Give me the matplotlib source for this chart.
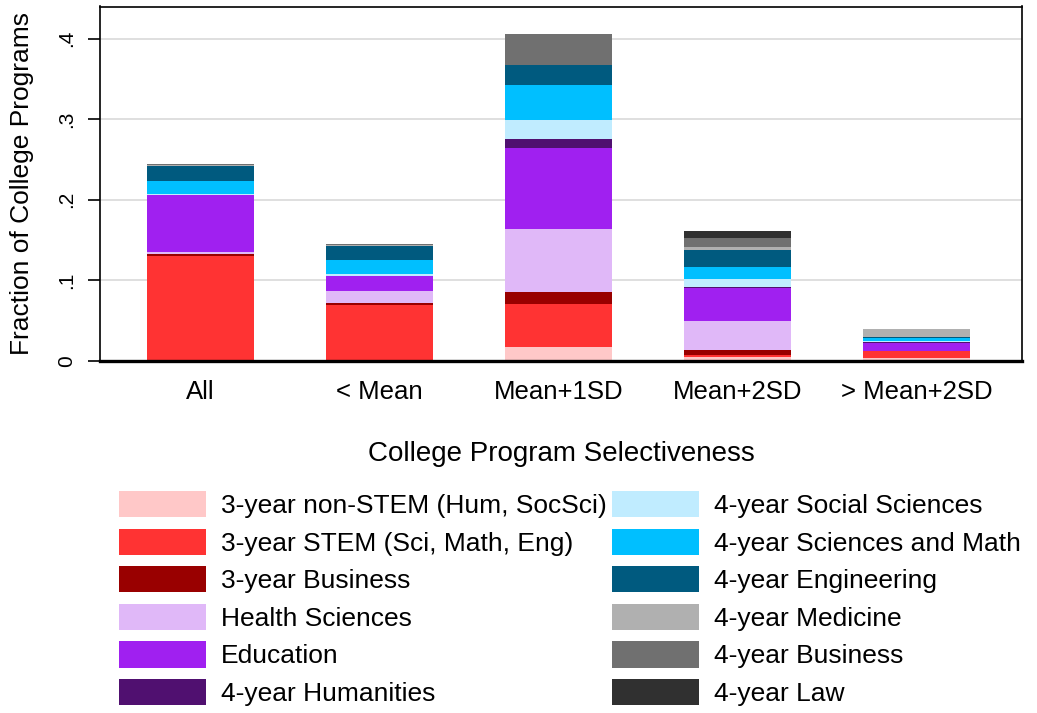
import matplotlib
matplotlib.use("Agg")
import matplotlib.pyplot as plt
import numpy as np
from matplotlib.patches import Patch

plt.rcParams['font.family'] = ['Liberation Sans', 'DejaVu Sans']

groups = ["All", "< Mean", "Mean+1SD", "Mean+2SD", "> Mean+2SD"]
fields = ["3-year non-STEM (Hum, SocSci)", "3-year STEM (Sci, Math, Eng)", "3-year Business",
          "Health Sciences", "Education", "4-year Humanities",
          "4-year Social Sciences", "4-year Sciences and Math", "4-year Engineering",
          "4-year Medicine", "4-year Business", "4-year Law"]

nonstem3 = [0.001, 0.000, 0.0175, 0.0045, 0.004]
stem3    = [0.129, 0.070, 0.053, 0.0025, 0.008]
bus3     = [0.003, 0.0025, 0.0153, 0.0066, 0.000]
health   = [0.002, 0.014, 0.0786, 0.036, 0.0005]
educ     = [0.071, 0.0195, 0.100, 0.041, 0.010]
hum4     = [0.000, 0.000, 0.0116, 0.0012, 0.001]
socsci4  = [0.001, 0.0025, 0.0227, 0.010, 0.0015]
scimath4 = [0.0165, 0.0165, 0.0443, 0.0145, 0.003]
eng4     = [0.019, 0.018, 0.0248, 0.022, 0.002]
med4     = [0.001, 0.001, 0.000, 0.003, 0.010]
bus4     = [0.001, 0.001, 0.0385, 0.0116, 0.000]
law4     = [0.000, 0.000, 0.000, 0.008, 0.000]

series = [nonstem3, stem3, bus3, health, educ, hum4, socsci4, scimath4, eng4, med4, bus4, law4]
colors = ["#ffc8c8", "#ff3333", "#990000", "#e0b8f8", "#a020f0", "#501070",
          "#c0ecff", "#00bfff", "#005a7f", "#b0b0b0", "#707070", "#303030"]

yticks = [0, 0.1, 0.2, 0.3, 0.4]
yticklabels = ["0", ".1", ".2", ".3", ".4"]

fig = plt.figure(figsize=(10.37, 7.13), dpi=100)
ax = fig.add_axes([100/1037, 1-361/713, 922/1037, (361-6.5)/713])

x = np.arange(len(groups))
bottom = np.zeros(len(groups))
for vals, col in zip(series, colors):
    v = np.array(vals)
    ax.bar(x, v, 0.6, bottom=bottom, color=col, linewidth=0)
    bottom += v

ax.set_xlim(-0.56, 4.59)
ax.set_ylim(0, 0.44)
ax.set_yticks(yticks)
ax.set_yticklabels(yticklabels, rotation=90, va='center', fontsize=15)
ax.set_xticks(x)
ax.set_xticklabels(groups, fontsize=18.5)
ax.tick_params(axis='x', length=0, pad=14)
ax.tick_params(axis='y', length=8.5, width=1.2, pad=9)
ax.yaxis.grid(True, color='#dcdcdc', linewidth=1.3)
ax.set_axisbelow(True)
for s in ax.spines.values():
    s.set_linewidth(1.2)
ax.spines['bottom'].set_linewidth(2.4)
ax.set_ylabel("Fraction of College Programs", fontsize=19, labelpad=16)
ax.set_xlabel("College Program Selectiveness", fontsize=20, labelpad=26)

handles = [Patch(facecolor=c, edgecolor='none') for c in colors]
common = dict(frameon=False, fontsize=19, handlelength=3.3, handleheight=1.15,
              handletextpad=0.55, labelspacing=0.4, borderaxespad=0, borderpad=0)
leg1 = fig.legend(handles[:6], fields[:6], loc='upper left',
                  bbox_to_anchor=(119/1037, 1-491/713), **common)
leg2 = fig.legend(handles[6:], fields[6:], loc='upper left',
                  bbox_to_anchor=(612/1037, 1-491/713), **common)

fig.savefig("out.png", dpi=100)
